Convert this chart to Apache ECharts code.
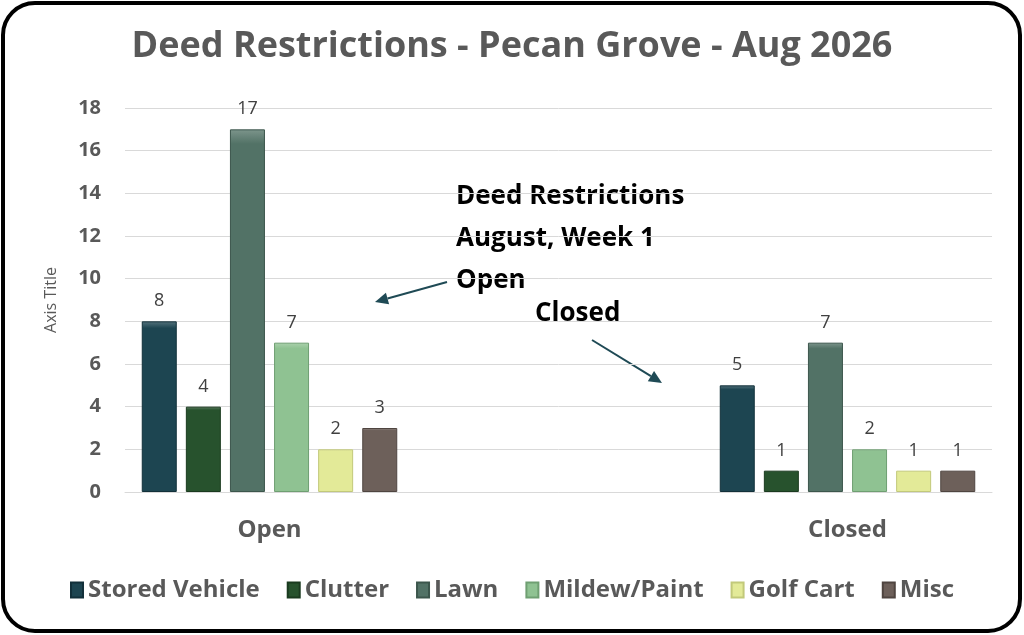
<!DOCTYPE html>
<html lang="en">
<head>
    <meta charset="UTF-8">
    <title>Deed Restrictions</title>
    <script src="https://cdn.jsdelivr.net/npm/echarts@6/dist/echarts.min.js"></script>
</head>
<style>
html,body{margin:0;padding:0;background-color:#ffffff}
#chartBox{width:1024px;height:635px}
</style>
<body>
    <div id="chartBox"></div>
</body>
<script>
// 分类与各项数据
const categories = ['Open', 'Closed'];
const seriesNames = ['Stored Vehicle', 'Clutter', 'Lawn', 'Mildew/Paint', 'Golf Cart', 'Misc'];
const storedVehicle = [8, 5];
const clutter = [4, 1];
const lawn = [17, 7];
const mildewPaint = [7, 2];
const golfCart = [2, 1];
const misc = [3, 1];
const yTicks = [0, 2, 4, 6, 8, 10, 12, 14, 16, 18];

const seriesValues = [storedVehicle, clutter, lawn, mildewPaint, golfCart, misc];
const barColors = ['#1d4551', '#27522d', '#527266', '#8fc292', '#e3ea98', '#6d605a'];
const barEdges = ['#12303a', '#1a3a1f', '#3c564c', '#6f9f72', '#c2c97a', '#4f4540'];
const fontName = '"Open Sans", "Liberation Sans", sans-serif';

// 两个分类之间留一个空位, 让分组位于 1/6 和 5/6 处
const axisData = [categories[0], '', categories[1]];
function spread(arr) {
    return [arr[0], '-', arr[1]];
}

function buildSeries() {
    return seriesNames.map((name, i) => ({
        type: 'bar',
        name: name,
        data: spread(seriesValues[i]),
        barWidth: 35,
        barGap: '26%',
        itemStyle: {
            color: new echarts.graphic.LinearGradient(0, 0, 0, 1, [
                {offset: 0, color: echarts.color.lift(barColors[i], 0.25)},
                {offset: 0.04, color: barColors[i]},
                {offset: 1, color: barColors[i]}
            ]),
            borderColor: barEdges[i],
            borderWidth: 1
        },
        label: {
            show: true,
            position: 'top',
            distance: 11,
            fontFamily: fontName,
            fontSize: 18,
            color: '#404040'
        }
    }));
}

function arrow(x1, y1, x2, y2) {
    let ang = Math.atan2(y2 - y1, x2 - x1);
    let len = 13, wid = 6;
    let bx = x2 - len * Math.cos(ang), by = y2 - len * Math.sin(ang);
    let px = -Math.sin(ang) * wid, py = Math.cos(ang) * wid;
    return [
        {type: 'line', shape: {x1: x1, y1: y1, x2: bx, y2: by}, style: {stroke: '#1f4a55', lineWidth: 2}},
        {type: 'polygon', shape: {points: [[x2, y2], [bx + px, by + py], [bx - px, by - py]]}, style: {fill: '#1f4a55'}}
    ];
}

const option = {
    animation: false,
    textStyle: {fontFamily: fontName},
    title: {
        text: 'Deed Restrictions - Pecan Grove - Aug 2026',
        left: 'center',
        top: 24,
        textStyle: {fontSize: 36, fontWeight: 'bold', color: '#595959', fontFamily: fontName}
    },
    grid: {left: 125, right: 32, top: 108, bottom: 143},
    xAxis: {
        type: 'category',
        data: axisData,
        axisLine: {lineStyle: {color: '#d9d9d9'}},
        axisTick: {show: false},
        axisLabel: {fontSize: 24, fontWeight: 'bold', color: '#595959', margin: 26, fontFamily: fontName}
    },
    yAxis: {
        type: 'value',
        min: yTicks[0],
        max: yTicks[yTicks.length - 1],
        interval: 2,
        name: 'Axis Title',
        nameLocation: 'center',
        nameGap: 66,
        nameTextStyle: {fontSize: 16, color: '#595959', fontFamily: fontName},
        axisLine: {show: false},
        axisTick: {show: false},
        axisLabel: {fontSize: 20, fontWeight: 'bold', color: '#595959', margin: 24, fontFamily: fontName},
        splitLine: {lineStyle: {color: '#d9d9d9'}}
    },
    legend: {
        bottom: 28,
        left: 'center',
        icon: 'rect',
        itemWidth: 12,
        itemHeight: 15,
        itemGap: 27,
        textStyle: {fontSize: 24, fontWeight: 'bold', color: '#595959', fontFamily: fontName},
        data: seriesNames
    },
    series: buildSeries(),
    graphic: [
        {type: 'rect', shape: {x: 3, y: 3, width: 1017, height: 628, r: 32},
         style: {fill: 'none', stroke: '#000000', lineWidth: 4}, z: 100},
        {type: 'text', left: 456, top: 176,
         style: {text: 'Deed Restrictions\nAugust, Week 1\nOpen', fontSize: 26, fontWeight: 'bold',
                 lineHeight: 42, fill: '#000000', fontFamily: fontName}},
        {type: 'text', left: 535, top: 301,
         style: {text: 'Closed', fontSize: 26, fontWeight: 'bold', fill: '#000000', fontFamily: fontName}}
    ].concat(arrow(447, 282, 375, 302), arrow(592, 340, 662, 383))
};

let chartObj = echarts.init(document.getElementById('chartBox'));
chartObj.setOption(option);
</script>
</html>
